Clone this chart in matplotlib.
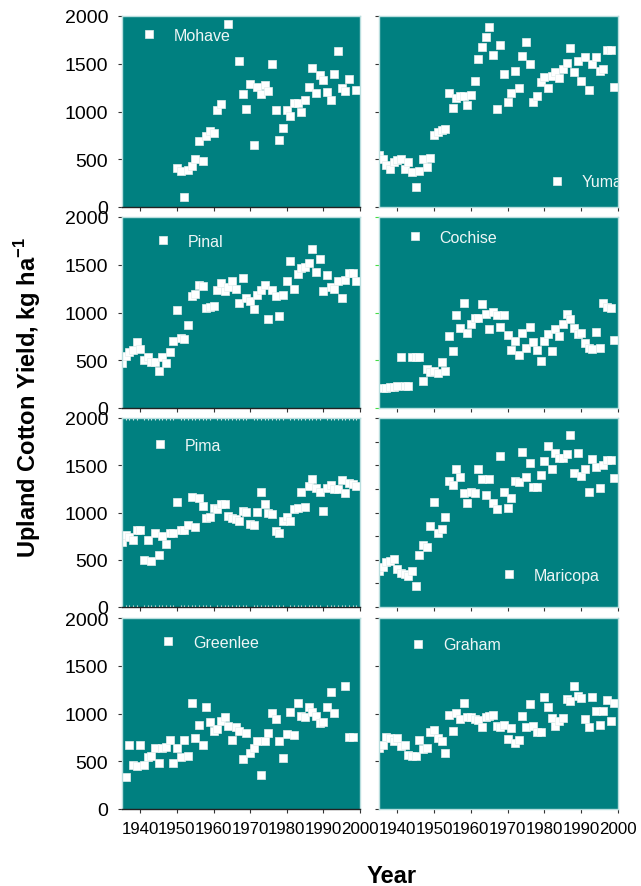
import matplotlib
matplotlib.use("Agg")
import matplotlib.pyplot as plt
from matplotlib.ticker import MultipleLocator
from matplotlib.lines import Line2D

plt.rcParams['font.family'] = ['Liberation Sans', 'DejaVu Sans']
plt.rcParams['mathtext.fontset'] = 'custom'
plt.rcParams['mathtext.rm'] = 'Liberation Sans'
plt.rcParams['mathtext.bf'] = 'Liberation Sans:bold'

# Upland cotton yields (kg/ha) by county
mohave_years = [1950, 1951, 1952, 1953, 1954, 1955, 1956, 1957, 1958, 1959, 1960, 1961, 1962,
                1964, 1967, 1968, 1969, 1970, 1971, 1972, 1973, 1974, 1975, 1976, 1977, 1978,
                1979, 1980, 1981, 1982, 1983, 1984, 1985, 1986, 1987, 1988, 1989, 1990, 1991,
                1992, 1993, 1994, 1995, 1996, 1997, 1999]
mohave_yield = [412, 377, 108, 384, 429, 499, 691, 478, 740, 799, 778, 1016, 1082,
                1912, 1525, 1183, 1026, 1284, 646, 1256, 1180, 1274, 1211, 1494, 1016, 698,
                827, 1012, 953, 1085, 1085, 991, 1120, 1260, 1455, 1197, 1382, 1330, 1201,
                1120, 1393, 1630, 1242, 1215, 1344, 1228]

yuma_years = list(range(1935, 2000))
yuma_yield = [541, 506, 436, 394, 471, 489, 506, 394, 471, 366,
              206, 380, 499, 419, 513, 750, 785, 806, 820, 1194,
              1037, 1141, 1162, 1162, 1068, 1169, 1323, 1553, 1679, 1780,
              1885, 1595, 1030, 1693, 1396, 1099, 1197, 1420, 1246, 1581,
              1728, 1494, 1099, 1162, 1309, 1358, 1246, 1372, 1413, 1351,
              1441, 1508, 1665, 1413, 1525, 1316, 1567, 1222, 1497, 1571,
              1420, 1441, 1640, 1640, 1253]

pinal_years = list(range(1935, 2000))
pinal_yield = [472, 549, 584, 610, 689, 619, 507, 532, 486, 486,
               392, 532, 472, 591, 706, 1028, 734, 724, 871, 1171,
               1196, 1290, 1276, 1046, 1053, 1063, 1238, 1311, 1220, 1262,
               1325, 1241, 1102, 1364, 1150, 1116, 1032, 1185, 1234, 1283,
               927, 1234, 1171, 962, 1185, 1332, 1542, 1248, 1402, 1465,
               1472, 1521, 1661, 1423, 1556, 1220, 1388, 1262, 1248, 1332,
               1150, 1339, 1416, 1416, 1332]

cochise_years = list(range(1936, 2000))
cochise_yield = [213, 213, 216, 220, 234, 539, 234, 234, 539,
                 539, 539, 280, 409, 374, 392, 367, 479, 392, 752,
                 601, 969, 836, 1102, 787, 881, 941, 941, 1088, 983,
                 829, 1004, 976, 846, 976, 766, 612, 706, 560, 787,
                 626, 846, 689, 612, 490, 706, 776, 594, 822, 759,
                 881, 986, 934, 836, 776, 787, 682, 626, 619, 794,
                 626, 1095, 1056, 1046, 717]

pima_years = list(range(1935, 2000))
pima_yield = [690, 760, 740, 711, 810, 810, 500, 711, 486, 788,
              549, 753, 669, 781, 788, 1109, 817, 817, 866, 1162,
              845, 1151, 1070, 940, 950, 1045, 1035, 1091, 1091, 964,
              940, 929, 905, 1021, 1010, 880, 869, 1010, 1214, 1091,
              993, 986, 803, 788, 905, 957, 915, 1035, 1049, 1221,
              1063, 1281, 1359, 1257, 1221, 1021, 1257, 1295, 1246, 1246,
              1345, 1204, 1316, 1302, 1281]

maricopa_years = list(range(1935, 2000))
maricopa_yield = [377, 422, 472, 490, 510, 405, 359, 348, 331, 377,
                  225, 549, 658, 634, 859, 1109, 788, 824, 950, 1338,
                  1288, 1457, 1373, 1204, 1105, 1221, 1211, 1464, 1352, 1183,
                  1352, 1098, 1035, 1598, 1218, 1049, 1155, 1338, 1324, 1644,
                  1373, 1528, 1267, 1274, 1394, 1542, 1704, 1457, 1633, 1573,
                  1573, 1619, 1816, 1415, 1626, 1387, 1457, 1218, 1563, 1478,
                  1260, 1503, 1556, 1556, 1362]

greenlee_years = list(range(1936, 1994)) + [1996, 1997, 1998]
greenlee_yield = [336, 666, 463, 452, 673, 463, 547, 557, 638, 484,
                  638, 645, 722, 484, 638, 540, 722, 557, 1107, 743,
                  876, 673, 1065, 908, 813, 834, 918, 960, 869, 722,
                  855, 813, 526, 792, 589, 638, 715, 357, 715, 792,
                  1002, 939, 715, 533, 785, 1016, 778, 1107, 974, 967,
                  1072, 1013, 974, 897, 908, 1072, 1226, 1002,
                  1293, 750, 750]

graham_years = list(range(1935, 2000))
graham_yield = [638, 673, 750, 743, 715, 743, 662, 666, 568, 554,
                557, 722, 627, 638, 802, 827, 743, 708, 589, 988,
                820, 1009, 939, 1107, 967, 960, 939, 932, 862, 960,
                978, 988, 872, 855, 883, 729, 848, 687, 722, 978,
                855, 1100, 869, 802, 802, 1177, 1065, 953, 872, 925,
                953, 1156, 1135, 1286, 1188, 1163, 946, 862, 1177, 1023,
                876, 1023, 1142, 925, 1114]

# county, years, yields, legend anchor (axes fraction)
panels = [
    ("Mohave", mohave_years, mohave_yield, (0.080, 0.900)),
    ("Yuma", yuma_years, yuma_yield, (0.711, 0.131)),
    ("Pinal", pinal_years, pinal_yield, (0.139, 0.874)),
    ("Cochise", cochise_years, cochise_yield, (0.117, 0.895)),
    ("Pima", pima_years, pima_yield, (0.126, 0.857)),
    ("Maricopa", maricopa_years, maricopa_yield, (0.510, 0.169)),
    ("Greenlee", greenlee_years, greenlee_yield, (0.160, 0.874)),
    ("Graham", graham_years, graham_yield, (0.130, 0.859)),
]

TEAL = "#008080"
PALE = "#b8dede"
W, H = 641, 887

fig = plt.figure(figsize=(W / 100, H / 100), dpi=100)

col_px = [(122, 360), (379, 618)]
row_px = [(17, 208), (218, 409), (419, 608), (619, 810)]

for i, (name, years, yields, anchor) in enumerate(panels):
    r, c = divmod(i, 2)
    x0, x1 = col_px[c]
    y0, y1 = row_px[r]
    ax = fig.add_axes([x0 / W, 1 - y1 / H, (x1 - x0) / W, (y1 - y0) / H])
    ax.set_facecolor(TEAL)
    ax.plot(years, yields, linestyle="none", marker="s", markersize=5.6,
            markerfacecolor="white", markeredgecolor="#e4eeee", markeredgewidth=0.5,
            label=name)
    ax.set_xlim(1935, 2000)
    ax.set_ylim(0, 2000)
    ax.set_xticks(range(1940, 2001, 10))
    if name == "Maricopa":
        ax.yaxis.set_major_locator(MultipleLocator(250))
    else:
        ax.yaxis.set_major_locator(MultipleLocator(500))

    for side in ("top", "right", "left", "bottom"):
        ax.spines[side].set_color(PALE)
        ax.spines[side].set_linewidth(1.0)
    if c == 0:
        ax.spines["bottom"].set_color("#222222")

    ytick_color = "#44dd44" if name == "Cochise" else "#333333"
    ax.tick_params(axis="y", direction="out", length=3, width=0.8, color=ytick_color,
                   labelsize=14, pad=7, labelleft=(c == 0))
    ax.tick_params(axis="x", direction="out", length=3, width=0.8, color="#333333",
                   labelbottom=(r == 3), labelsize=12.2, pad=6)

    if name == "Pima":
        ax.xaxis.set_minor_locator(MultipleLocator(1))
        ax.tick_params(axis="x", which="minor", direction="in", length=1.5, width=0.8,
                       color="#d8eaea", top=True, bottom=True)

    handle = Line2D([], [], linestyle="none", marker="s", markersize=5.6,
                    markerfacecolor="white", markeredgecolor="#e4eeee", markeredgewidth=0.5)
    leg = ax.legend([handle], [name], loc="center left", bbox_to_anchor=anchor,
                    frameon=False, fontsize=11.5, handlelength=1.0, handletextpad=1.05,
                    borderpad=0, borderaxespad=0, labelcolor="#eef6f6")
    for t in leg.get_texts():
        t.set_clip_path(ax.patch)

fig.text(28 / W, 1 - 397 / H, "Upland Cotton Yield, kg ha$^{\\mathbf{-1}}$", rotation=90,
         ha="center", va="center", fontsize=17, fontweight="bold")
fig.text(392 / W, 1 - 877 / H, "Year", ha="center", va="center", fontsize=17,
         fontweight="bold")

fig.savefig("out.png", dpi=100)
